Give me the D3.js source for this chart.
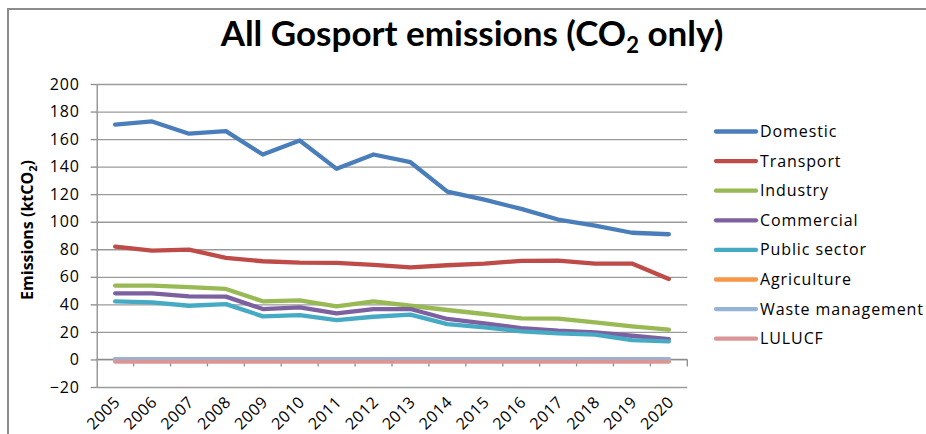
<!DOCTYPE html>
<html>
<head>
<meta charset="utf-8">
<script src="https://cdn.jsdelivr.net/npm/d3@7"></script>
<style>
  html, body { margin: 0; padding: 0; background: #fff; overflow: hidden; }
  svg { display: block; }
  text { font-family: "Open Sans", "DejaVu Sans", sans-serif; fill: #000; }
</style>
</head>
<body>
<svg id="chart" width="926" height="434"></svg>
<script>
// Gosport CO2 emissions by sector, kilotonnes CO2
const years = ["2005","2006","2007","2008","2009","2010","2011","2012","2013","2014","2015","2016","2017","2018","2019","2020"];

const domestic     = [170.5, 172.8, 163.9, 165.8, 148.8, 159.0, 138.4, 148.8, 143.2, 121.9, 116.0, 109.3, 101.6, 97.2, 92.0, 90.9];
const transport    = [81.9, 79.0, 79.8, 73.7, 71.3, 70.3, 70.1, 68.6, 66.9, 68.4, 69.6, 71.6, 71.7, 69.6, 69.6, 58.4];
const industry     = [53.6, 53.6, 52.5, 51.2, 42.2, 42.9, 38.5, 42.2, 39.0, 35.9, 33.0, 29.8, 29.7, 26.9, 24.0, 21.6];
const commercial   = [48.0, 48.0, 45.8, 45.6, 36.6, 37.8, 33.4, 36.6, 36.6, 29.4, 26.2, 22.8, 20.9, 19.6, 17.2, 14.8];
const publicSector = [42.2, 41.5, 39.0, 40.2, 31.3, 32.2, 28.6, 31.0, 32.5, 25.7, 23.3, 20.4, 18.9, 18.0, 14.1, 13.1];
const agriculture  = [0.1, 0.1, 0.1, 0.1, 0.1, 0.1, 0.1, 0.1, 0.1, 0.1, 0.1, 0.1, 0.1, 0.1, 0.1, 0.1];
const waste        = [0.3, 0.3, 0.3, 0.3, 0.3, 0.3, 0.3, 0.3, 0.3, 0.3, 0.3, 0.3, 0.3, 0.3, 0.3, 0.3];
const lulucf       = [-1.6, -1.6, -1.6, -1.6, -1.6, -1.6, -1.6, -1.6, -1.6, -1.6, -1.6, -1.6, -1.6, -1.6, -1.6, -1.6];

const seriesNames  = ["Domestic", "Transport", "Industry", "Commercial", "Public sector", "Agriculture", "Waste management", "LULUCF"];
const seriesValues = [domestic, transport, industry, commercial, publicSector, agriculture, waste, lulucf];
const seriesColors = ["#4a7ebb", "#be4b48", "#98b954", "#7d60a0", "#46aac5", "#f79646", "#95b3d7", "#d99694"];

const yTicks = [-20, 0, 20, 40, 60, 80, 100, 120, 140, 160, 180, 200];

const svg = d3.select("#chart");

// outer chart frame
svg.append("rect")
  .attr("x", 8).attr("y", 9)
  .attr("width", 1000).attr("height", 500)
  .attr("fill", "#fff")
  .attr("stroke", "#8c8c8c").attr("stroke-width", 2);

const plot = { left: 96.7, right: 687.3, top: 84, bottom: 387 };

const x = d3.scaleBand().domain(years).range([plot.left, plot.right]);
const y = d3.scaleLinear().domain([-20, 200]).range([plot.bottom, plot.top]);
const cx = d => x(d) + x.bandwidth() / 2;

// title
const title = svg.append("text")
  .attr("x", 472).attr("y", 46)
  .attr("text-anchor", "middle")
  .style("font-family", "Lato, 'Open Sans', sans-serif")
  .style("font-size", "35px").style("font-weight", "bold");
title.append("tspan").text("All Gosport emissions (CO");
title.append("tspan").attr("dy", 7).style("font-size", "22px").text("2");
title.append("tspan").attr("dy", -7).text(" only)");

// horizontal gridlines
svg.append("g")
  .attr("transform", `translate(${plot.left},0)`)
  .call(d3.axisLeft(y).tickValues(yTicks).tickSize(-(plot.right - plot.left)).tickFormat(""))
  .call(g => g.select(".domain").remove())
  .call(g => g.selectAll("line").attr("stroke", "#9a9a9a").attr("stroke-width", 1.3));

// value axis
svg.append("g")
  .attr("transform", `translate(${plot.left},0)`)
  .call(d3.axisLeft(y).tickValues(yTicks).tickSize(6).tickSizeOuter(0).tickPadding(11))
  .call(g => g.select(".domain").attr("stroke", "#8c8c8c").attr("stroke-width", 1.3))
  .call(g => g.selectAll("line").attr("stroke", "#8c8c8c").attr("stroke-width", 1.3))
  .call(g => g.selectAll("text")
    .style("font-size", "16px")
    .style("letter-spacing", "0.8px")
    .style("font-family", "'Open Sans', sans-serif")
    .attr("fill", "#000"));

// category axis crossing at zero, ticks between categories
const xAxis = svg.append("g").attr("transform", `translate(0,${y(0)})`);
xAxis.append("line")
  .attr("x1", plot.left).attr("x2", plot.right)
  .attr("stroke", "#8c8c8c").attr("stroke-width", 1.3);
xAxis.selectAll("line.tick")
  .data(years)
  .join("line")
  .attr("class", "tick")
  .attr("x1", d => x(d) + x.bandwidth()).attr("x2", d => x(d) + x.bandwidth())
  .attr("y1", 0).attr("y2", 7)
  .attr("stroke", "#8c8c8c").attr("stroke-width", 1.3);

// category labels below the plot, rotated
svg.append("g").selectAll("text")
  .data(years)
  .join("text")
  .attr("transform", d => `translate(${cx(d) + 6},${plot.bottom + 16}) rotate(-45)`)
  .attr("text-anchor", "end")
  .style("font-size", "16px")
  .style("letter-spacing", "0.6px")
  .text(d => d);

// axis title
const yTitle = svg.append("text")
  .attr("transform", `translate(33,230) rotate(-90)`)
  .attr("text-anchor", "middle")
  .style("font-size", "16px").style("font-weight", "bold");
yTitle.append("tspan").text("Emissions (ktCO");
yTitle.append("tspan").attr("dy", 4).style("font-size", "11px").text("2");
yTitle.append("tspan").attr("dy", -4).text(")");

// series lines
const line = d3.line().x((d, i) => cx(years[i])).y(d => y(d));
svg.append("g").selectAll("path")
  .data(seriesValues)
  .join("path")
  .attr("d", d => line(d))
  .attr("fill", "none")
  .attr("stroke", (d, i) => seriesColors[i])
  .attr("stroke-width", 4.3)
  .attr("stroke-linejoin", "round")
  .attr("stroke-linecap", "round");

// legend
const legend = svg.append("g");
const rowY = i => 131.5 + i * 29.6;
legend.selectAll("line")
  .data(seriesNames)
  .join("line")
  .attr("x1", 716).attr("x2", 756)
  .attr("y1", (d, i) => rowY(i)).attr("y2", (d, i) => rowY(i))
  .attr("stroke", (d, i) => seriesColors[i])
  .attr("stroke-width", 4.3)
  .attr("stroke-linecap", "round");
legend.selectAll("text")
  .data(seriesNames)
  .join("text")
  .attr("x", 760)
  .attr("y", (d, i) => rowY(i) + 5.5)
  .style("font-size", "16px")
  .style("letter-spacing", "0.9px")
  .text(d => d);
</script>
</body>
</html>
